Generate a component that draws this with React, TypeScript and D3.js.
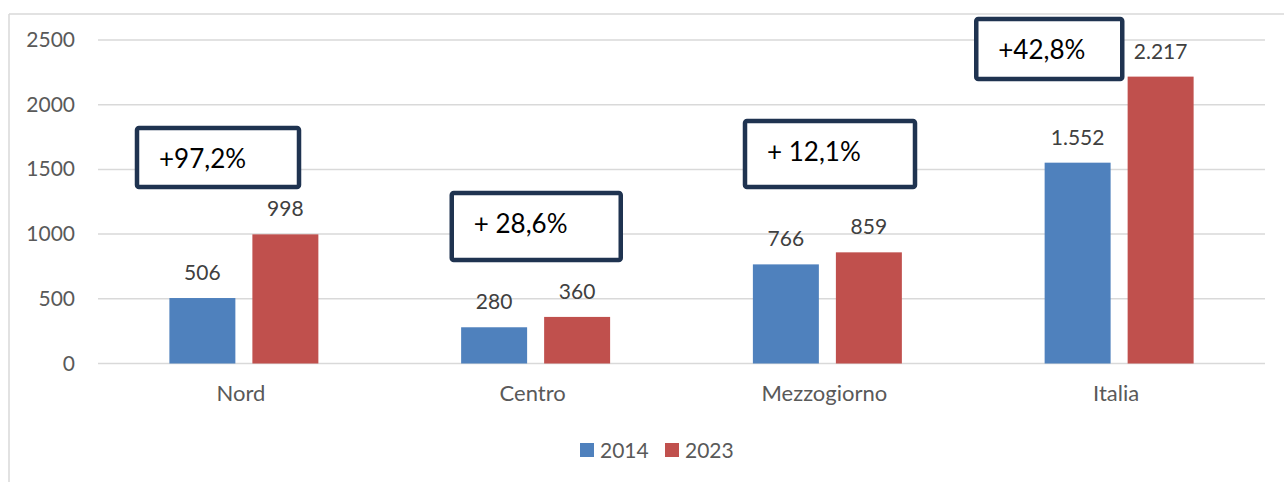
import React from "react";
import * as d3 from "d3";

const categories = ["Nord", "Centro", "Mezzogiorno", "Italia"];
const series = ["2014", "2023"];
const values2014 = [506, 280, 766, 1552];
const values2023 = [998, 360, 859, 2217];
const labels2014 = ["506", "280", "766", "1.552"];
const labels2023 = ["998", "360", "859", "2.217"];
const yTicks = [0, 500, 1000, 1500, 2000, 2500];
const changeLabels = ["+97,2%", "+ 28,6%", "+ 12,1%", "+42,8%"];

const colors = ["#4F81BD", "#C0504D"];
const W = 1284;
const H = 482;
const FONT = "Lato, 'Open Sans', sans-serif";

// annotation box layout (offset from band start, top y, width, height)
const boxLayout = [
  { dx: 39, y: 128, w: 162, h: 59 },
  { dx: 62, y: 193, w: 169, h: 67 },
  { dx: 63.5, y: 121, w: 170, h: 66 },
  { dx: 3, y: 19, w: 146, h: 60 },
];

export default function App() {
  const x = d3.scaleBand<string>().domain(categories).range([98, 1265]).paddingInner(0).paddingOuter(0);
  const x1 = d3.scaleBand<string>().domain(series).range([0, x.bandwidth()]).paddingInner(0.205).paddingOuter(0.86);
  const y = d3.scaleLinear().domain([0, 2500]).range([363.5, 40]);
  const seriesValues = [values2014, values2023];
  const seriesLabels = [labels2014, labels2023];

  return (
    <svg width={W} height={H} style={{ position: "absolute", left: 0, top: 0, background: "#fff" }} fontFamily={FONT}>
      <rect x={0} y={0} width={W} height={H} fill="#fff" />
      {/* frame */}
      <line x1={9} x2={W} y1={14} y2={14} stroke="#D9D9D9" strokeWidth={1.5} />
      <line x1={9} x2={9} y1={14} y2={H} stroke="#D9D9D9" strokeWidth={1.5} />
      {/* grid and ticks */}
      {yTicks.map((t) => (
        <g key={t}>
          <line x1={98} x2={1265} y1={y(t)} y2={y(t)} stroke="#D9D9D9" strokeWidth={1.5} />
          <text x={75} y={y(t) + 7} textAnchor="end" fontSize={21} fill="#595959">
            {t}
          </text>
        </g>
      ))}
      {/* bars */}
      {categories.map((c, ci) => (
        <g key={c}>
          {series.map((s, si) => {
            const v = seriesValues[si][ci];
            const bx = (x(c) ?? 0) + (x1(s) ?? 0);
            return (
              <g key={s}>
                <rect x={bx} y={y(v)} width={x1.bandwidth()} height={y(0) - y(v)} fill={colors[si]} />
                <text x={bx + x1.bandwidth() / 2} y={y(v) - 18} textAnchor="middle" fontSize={21} fill="#404040">
                  {seriesLabels[si][ci]}
                </text>
              </g>
            );
          })}
          <text x={(x(c) ?? 0) + x.bandwidth() / 2 - 3} y={401} textAnchor="middle" fontSize={22} fill="#595959">
            {c}
          </text>
        </g>
      ))}
      {/* annotations */}
      {categories.map((c, ci) => {
        const b = boxLayout[ci];
        const bx = (x(c) ?? 0) + b.dx;
        return (
          <g key={"a" + c}>
            <rect x={bx} y={b.y} width={b.w} height={b.h} fill="#fff" stroke="#1F3350" strokeWidth={4.5} rx={2} />
            <text x={bx + 22} y={b.y + 40} fontSize={26} fill="#000">
              {changeLabels[ci]}
            </text>
          </g>
        );
      })}
      {/* legend */}
      {series.map((s, si) => (
        <g key={"l" + s} transform={`translate(${580 + si * 85},443)`}>
          <rect x={0} y={0} width={14} height={14} fill={colors[si]} />
          <text x={20} y={15} fontSize={21} fill="#595959">
            {s}
          </text>
        </g>
      ))}
    </svg>
  );
}
